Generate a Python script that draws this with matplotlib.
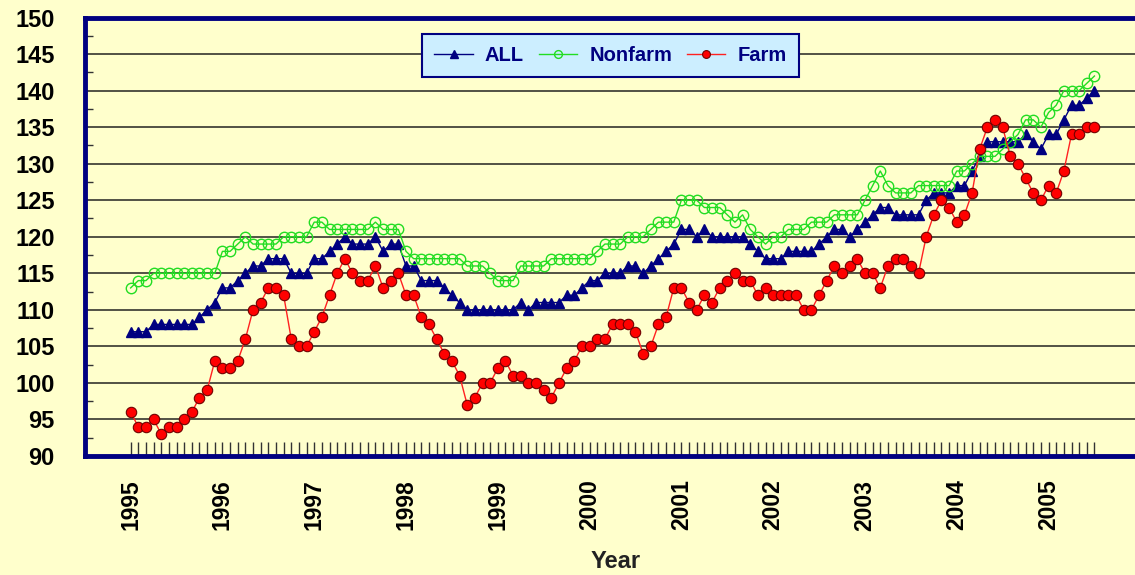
import numpy as np
import matplotlib
matplotlib.use("Agg")
import matplotlib.pyplot as plt

# Monthly index values, Jan 1995 - Jul 2005
all_idx = [107, 107, 107, 108, 108, 108, 108, 108, 108, 109, 110, 111,
           113, 113, 114, 115, 116, 116, 117, 117, 117, 115, 115, 115,
           117, 117, 118, 119, 120, 119, 119, 119, 120, 118, 119, 119,
           116, 116, 114, 114, 114, 113, 112, 111, 110, 110, 110, 110,
           110, 110, 110, 111, 110, 111, 111, 111, 111, 112, 112, 113,
           114, 114, 115, 115, 115, 116, 116, 115, 116, 117, 118, 119,
           121, 121, 120, 121, 120, 120, 120, 120, 120, 119, 118, 117,
           117, 117, 118, 118, 118, 118, 119, 120, 121, 121, 120, 121,
           122, 123, 124, 124, 123, 123, 123, 123, 125, 126, 126, 126,
           127, 127, 129, 131, 133, 133, 133, 133, 133, 134, 133, 132,
           134, 134, 136, 138, 138, 139, 140]

nonfarm = [113, 114, 114, 115, 115, 115, 115, 115, 115, 115, 115, 115,
           118, 118, 119, 120, 119, 119, 119, 119, 120, 120, 120, 120,
           122, 122, 121, 121, 121, 121, 121, 121, 122, 121, 121, 121,
           118, 117, 117, 117, 117, 117, 117, 117, 116, 116, 116, 115,
           114, 114, 114, 116, 116, 116, 116, 117, 117, 117, 117, 117,
           117, 118, 119, 119, 119, 120, 120, 120, 121, 122, 122, 122,
           125, 125, 125, 124, 124, 124, 123, 122, 123, 121, 120, 119,
           120, 120, 121, 121, 121, 122, 122, 122, 123, 123, 123, 123,
           125, 127, 129, 127, 126, 126, 126, 127, 127, 127, 127, 127,
           129, 129, 130, 131, 131, 131, 132, 133, 134, 136, 136, 135,
           137, 138, 140, 140, 140, 141, 142]

farm = [96, 94, 94, 95, 93, 94, 94, 95, 96, 98, 99, 103,
        102, 102, 103, 106, 110, 111, 113, 113, 112, 106, 105, 105,
        107, 109, 112, 115, 117, 115, 114, 114, 116, 113, 114, 115,
        112, 112, 109, 108, 106, 104, 103, 101, 97, 98, 100, 100,
        102, 103, 101, 101, 100, 100, 99, 98, 100, 102, 103, 105,
        105, 106, 106, 108, 108, 108, 107, 104, 105, 108, 109, 113,
        113, 111, 110, 112, 111, 113, 114, 115, 114, 114, 112, 113,
        112, 112, 112, 112, 110, 110, 112, 114, 116, 115, 116, 117,
        115, 115, 113, 116, 117, 117, 116, 115, 120, 123, 125, 124,
        122, 123, 126, 132, 135, 136, 135, 131, 130, 128, 126, 125,
        127, 126, 129, 134, 134, 135, 135]

years = ["1995", "1996", "1997", "1998", "1999", "2000",
         "2001", "2002", "2003", "2004", "2005"]

bg = "#FFFFCC"
navy = "#000080"
plt.rcParams["font.family"] = ["Liberation Sans", "DejaVu Sans"]

x = np.arange(len(all_idx))

fig = plt.figure(figsize=(11.35, 5.75), dpi=100, facecolor=bg)
ax = fig.add_axes([0.075, 0.207, 0.925, 0.7625])
ax.set_facecolor(bg)

ax.plot(x, all_idx, color=navy, lw=1, marker="^", ms=7.5,
        mfc=navy, mec=navy, label="ALL", zorder=3)
ax.plot(x, nonfarm, color="#22DD22", lw=1, marker="o", ms=7.5,
        mfc="none", mec="#22DD22", mew=1, label="Nonfarm", zorder=3)
ax.plot(x, farm, color="#FF2020", lw=1, marker="o", ms=7.5,
        mfc="#FF0000", mec="#700000", mew=0.8, label="Farm", zorder=3)

# axes limits / grid
ax.set_xlim(-5.95, 131.3)
ax.set_ylim(90, 150)
ax.set_yticks(np.arange(90, 151, 5))
ax.set_yticks(np.arange(92.5, 150, 5), minor=True)
ax.yaxis.grid(True, which="major", color="#44443a", lw=1.3)
ax.set_axisbelow(True)

# one small tick per month, year labels at each January
tick_labels = []
for i in x:
    tick_labels.append(years[i // 12] if i % 12 == 0 else "")
ax.set_xticks(x)
ax.set_xticklabels(tick_labels, rotation=90, fontsize=16.5, fontweight="bold")
ax.tick_params(axis="x", direction="in", length=10, width=1, color="#333333",
               pad=17)
ax.tick_params(axis="y", which="major", direction="in", length=0,
               labelsize=17, pad=22)
ax.tick_params(axis="y", which="minor", direction="in", length=6, width=1,
               color="#333333")
for lab in ax.get_yticklabels():
    lab.set_fontweight("bold")

for side in ["left", "bottom", "top"]:
    ax.spines[side].set_color(navy)
    ax.spines[side].set_linewidth(3.5)
ax.spines["right"].set_visible(False)

fig.text(0.542, 1 - 562 / 575, "Year", ha="center", va="center", fontsize=17,
         fontweight="bold", color="#222222")

leg = ax.legend(loc="center", bbox_to_anchor=(0.538, 0.904),
                bbox_transform=fig.transFigure, ncol=3, frameon=True,
                fancybox=False, framealpha=1, facecolor="#CCEEFF",
                edgecolor=navy, prop={"size": 14.5, "weight": "bold"},
                handlelength=1.9, handletextpad=0.6, columnspacing=0.75,
                borderpad=0.6, markerscale=0.75)
leg.get_frame().set_linewidth(1.5)
for t in leg.get_texts():
    t.set_color(navy)
leg.set_zorder(5)

fig.savefig("out.png", dpi=100, facecolor=bg)
